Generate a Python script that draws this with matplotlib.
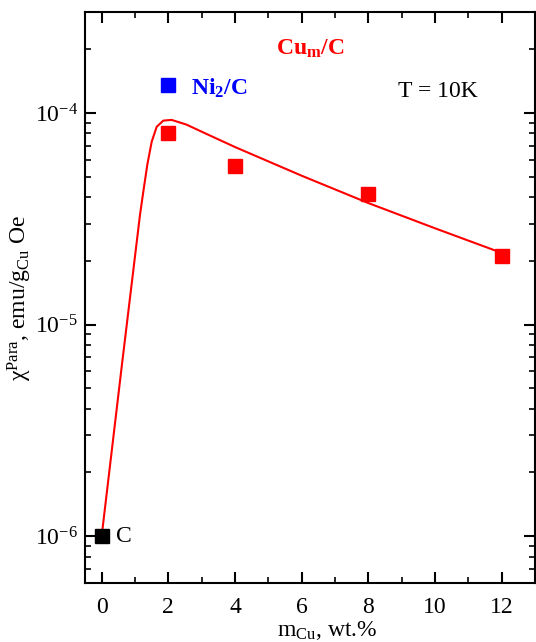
#chi_para vs Cu content, Cu_m/C samples at T = 10K

#imports
import matplotlib
matplotlib.use('Agg')
import matplotlib.pyplot as plt
from matplotlib.ticker import LogLocator, MultipleLocator, NullFormatter

#fonts (Times-like look)
plt.rcParams['font.family'] = ['Liberation Serif', 'DejaVu Serif']
plt.rcParams['mathtext.fontset'] = 'custom'
plt.rcParams['mathtext.rm'] = 'Liberation Serif'
plt.rcParams['mathtext.it'] = 'Liberation Serif:italic'
plt.rcParams['mathtext.bf'] = 'Liberation Serif:bold'

#data
cu_x = [2, 4, 8, 12]
cu_chi = [8.05e-5, 5.6e-5, 4.12e-5, 2.1e-5]

c_x = [0]
c_chi = [1.0e-6]

ni_x = [2]
ni_chi = [1.35e-4]

#guide curve through the points
fit_x = [0, 0.6, 1.15, 1.25, 1.37, 1.5, 1.65, 1.85, 2.1, 2.55, 3.04, 3.54,
         4, 6, 8, 10, 12]
fit_chi = [1.0e-6, 6.3e-6, 3.3e-5, 4.25e-5, 5.7e-5, 7.3e-5, 8.6e-5, 9.2e-5,
           9.27e-5, 8.8e-5, 8.1e-5, 7.45e-5, 6.9e-5, 5.05e-5, 3.75e-5,
           2.85e-5, 2.18e-5]

#figure
fig = plt.figure(figsize=(5.36, 6.42), dpi=100)
ax = fig.add_axes([85/536, 59/642, 450/536, 571/642])

ax.plot(fit_x, fit_chi, color='#ff0000', lw=1.5, zorder=2)
ax.plot(cu_x, cu_chi, 's', color='#ff0000', ms=10, zorder=3)
ax.plot(c_x, c_chi, 's', color='black', ms=10, zorder=3)
ax.plot(ni_x, ni_chi, 's', color='#0000ff', ms=10, zorder=3)

ax.set_yscale('log')
ax.set_xlim(-0.5, 13)
ax.set_ylim(6e-7, 3e-4)

ax.xaxis.set_major_locator(MultipleLocator(2))
ax.xaxis.set_minor_locator(MultipleLocator(1))
ax.yaxis.set_major_locator(LogLocator(base=10))
ax.yaxis.set_minor_locator(LogLocator(base=10, subs=range(2, 10)))
ax.yaxis.set_minor_formatter(NullFormatter())

for s in ax.spines.values():
    s.set_linewidth(1.5)
ax.tick_params(which='both', direction='in', top=True, right=True, labelsize=17)
ax.tick_params(which='major', length=8, width=1.5)
ax.tick_params(which='minor', length=4.5, width=1.2)
ax.tick_params(axis='x', pad=10)
ax.tick_params(axis='y', pad=5)

#labels
ax.set_ylabel('χ$^{\\rm Para}$, emu/g$_{\\rm Cu}$ Oe', fontsize=17)
ax.yaxis.set_label_coords(-0.113, 0.5)
fig.text(327/536, 6/642, r'm$_{\rm Cu}$, wt.%', fontsize=17, ha='center', va='baseline')

#annotations
ax.text(0.5, 0.926, r'Cu$_{\mathbf{m}}$/C', transform=ax.transAxes, color='#ff0000',
        fontsize=17, fontweight='bold', ha='center', va='baseline')
ax.text(0.236, 0.856, r'Ni$_{\mathbf{2}}$/C', transform=ax.transAxes, color='#0000ff',
        fontsize=17, fontweight='bold', ha='left', va='baseline')
ax.text(0.696, 0.851, 'T = 10K', transform=ax.transAxes, color='black',
        fontsize=17, ha='left', va='baseline')
ax.text(0.43, 1.0e-6, 'C', color='black', fontsize=17, ha='left', va='center')

fig.savefig('out.png', dpi=100)
